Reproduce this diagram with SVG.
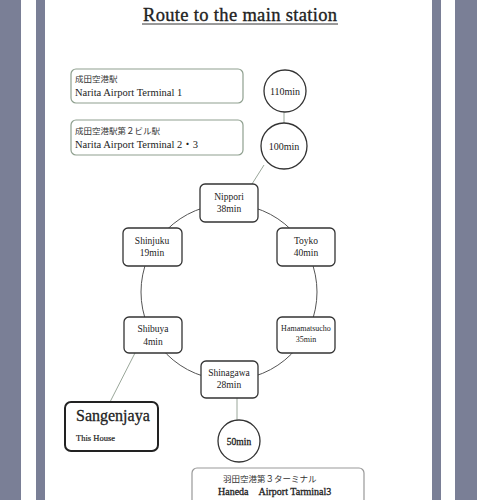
<svg xmlns="http://www.w3.org/2000/svg" width="477" height="500" viewBox="0 0 477 500">
<style>
.band{fill:#7a7f96}
.t{font-family:"Liberation Serif","Noto Sans CJK JP",serif;fill:#222}
.jp{font-family:"Noto Sans CJK JP","Liberation Serif",serif;fill:#333}
.st{fill:#fff;stroke:#333;stroke-width:1.3}
.ap{fill:#fff;stroke:#8fa08f;stroke-width:1.2}
.circ{fill:#fff;stroke:#333;stroke-width:1.3}
.lk{fill:none;stroke:#9aa79a;stroke-width:1}
</style>
<rect width="477" height="500" fill="#fff"/>
<rect class="band" x="0" y="0" width="21" height="500"/>
<rect class="band" x="36" y="0" width="9" height="500"/>
<rect class="band" x="432" y="0" width="9" height="500"/>
<rect class="band" x="455" y="0" width="22" height="500"/>

<text class="t" x="240" y="21" font-size="18.5" text-anchor="middle" stroke="#222" stroke-width="0.35" textLength="194">Route to the main station</text>
<line x1="142" y1="24" x2="338" y2="24" stroke="#333" stroke-width="1"/>

<g id="connectors">
<circle cx="229" cy="292" r="88" fill="none" stroke="#555" stroke-width="1"/>
<line class="lk" x1="284" y1="112" x2="284" y2="123"/>
<line class="lk" x1="264" y1="165" x2="252" y2="184"/>
<line class="lk" x1="135" y1="353" x2="110" y2="402"/>
<line class="lk" x1="237" y1="398" x2="237" y2="421"/>
</g>

<g id="narita1">
<rect class="ap" x="71" y="69" width="172" height="34" rx="5"/>
<text class="jp" x="75" y="82" font-size="8.5">成田空港駅</text>
<text class="t" x="75" y="96" font-size="10.5">Narita Airport Terminal 1</text>
</g>
<g id="narita2">
<rect class="ap" x="71" y="120" width="172" height="35" rx="5"/>
<text class="jp" x="75" y="134" font-size="8.5">成田空港駅第２ビル駅</text>
<text class="t" x="75" y="148" font-size="10.5">Narita Airport Terminal 2・3</text>
</g>
<g id="c110">
<circle class="circ" cx="285" cy="91" r="21"/>
<text class="t" x="285" y="95" font-size="10" text-anchor="middle">110min</text>
</g>
<g id="c100">
<circle class="circ" cx="284" cy="146" r="23"/>
<text class="t" x="284" y="150" font-size="10" text-anchor="middle">100min</text>
</g>

<g id="nippori">
<rect class="st" x="200" y="184" width="58" height="38" rx="5"/>
<text class="t" x="229" y="200" font-size="9.5" text-anchor="middle">Nippori</text>
<text class="t" x="229" y="212" font-size="9.5" text-anchor="middle">38min</text>
</g>
<g id="shinjuku">
<rect class="st" x="123" y="228" width="59" height="38" rx="5"/>
<text class="t" x="152" y="244" font-size="9.5" text-anchor="middle">Shinjuku</text>
<text class="t" x="152" y="256" font-size="9.5" text-anchor="middle">19min</text>
</g>
<g id="toyko">
<rect class="st" x="277" y="228" width="58" height="38" rx="5"/>
<text class="t" x="306" y="244" font-size="9.5" text-anchor="middle">Toyko</text>
<text class="t" x="306" y="256" font-size="9.5" text-anchor="middle">40min</text>
</g>
<g id="shibuya">
<rect class="st" x="124" y="317" width="58" height="36" rx="5"/>
<text class="t" x="153" y="332" font-size="9.5" text-anchor="middle">Shibuya</text>
<text class="t" x="153" y="345" font-size="9.5" text-anchor="middle">4min</text>
</g>
<g id="hamamatsucho">
<rect class="st" x="277" y="317" width="58" height="36" rx="5"/>
<text class="t" x="306" y="331" font-size="8" text-anchor="middle">Hamamatsucho</text>
<text class="t" x="306" y="342" font-size="8" text-anchor="middle">35min</text>
</g>
<g id="shinagawa">
<rect class="st" x="201" y="361" width="57" height="37" rx="5"/>
<text class="t" x="229" y="376" font-size="9.5" text-anchor="middle">Shinagawa</text>
<text class="t" x="229" y="388" font-size="9.5" text-anchor="middle">28min</text>
</g>
<g id="sangenjaya">
<rect x="65" y="402" width="93" height="49" rx="6" fill="#fff" stroke="#222" stroke-width="2"/>
<text class="t" x="76" y="421" font-size="16" stroke="#222" stroke-width="0.3">Sangenjaya</text>
<text class="t" x="76" y="441" font-size="8.5" stroke="#222" stroke-width="0.2">This House</text>
</g>
<g id="c50">
<circle class="circ" cx="239" cy="441" r="21"/>
<text class="t" x="239" y="445" font-size="9.5" stroke="#222" stroke-width="0.3" text-anchor="middle">50min</text>
</g>
<g id="haneda">
<rect x="192" y="468" width="172" height="40" rx="5" fill="#fff" stroke="#999" stroke-width="1.2"/>
<text class="jp" x="223" y="482" font-size="8.5">羽田空港第３ターミナル</text>
<text class="t" x="218" y="495" font-size="10" stroke="#222" stroke-width="0.3">Haneda　Airport Tarminal3</text>
</g>
</svg>
